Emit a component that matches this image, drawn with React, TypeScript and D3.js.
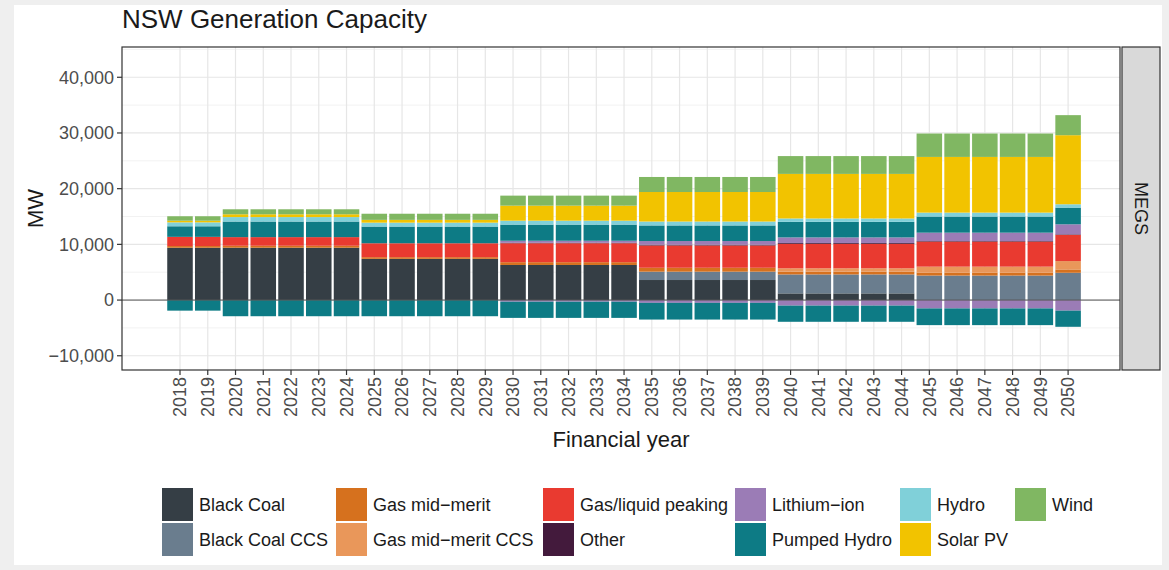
import React from "react";
import * as d3 from "d3";

const years = [2018, 2019, 2020, 2021, 2022, 2023, 2024, 2025, 2026, 2027, 2028, 2029, 2030, 2031, 2032, 2033, 2034, 2035, 2036, 2037, 2038, 2039, 2040, 2041, 2042, 2043, 2044, 2045, 2046, 2047, 2048, 2049, 2050];

const blackCoal = [9400, 9400, 9400, 9400, 9400, 9400, 9400, 7400, 7400, 7400, 7400, 7400, 6300, 6300, 6300, 6300, 6300, 3600, 3600, 3600, 3600, 3600, 1200, 1200, 1200, 1200, 1200, 0, 0, 0, 0, 0, 0];
const blackCoalCCS = [0, 0, 0, 0, 0, 0, 0, 0, 0, 0, 0, 0, 0, 0, 0, 0, 0, 1500, 1500, 1500, 1500, 1500, 3400, 3400, 3400, 3400, 3400, 4400, 4400, 4400, 4400, 4400, 4900];
const gasMidMerit = [300, 300, 350, 350, 350, 350, 350, 300, 300, 300, 300, 300, 500, 500, 500, 500, 500, 700, 700, 700, 700, 700, 500, 500, 500, 500, 500, 500, 500, 500, 500, 500, 600];
const gasMidMeritCCS = [0, 0, 0, 0, 0, 0, 0, 0, 0, 0, 0, 0, 0, 0, 0, 0, 0, 0, 0, 0, 0, 0, 600, 600, 600, 600, 600, 1100, 1100, 1100, 1100, 1100, 1500];
const gasPeaking = [1650, 1650, 1550, 1550, 1550, 1550, 1550, 2500, 2500, 2500, 2500, 2500, 3400, 3400, 3400, 3400, 3400, 4000, 4000, 4000, 4000, 4000, 4400, 4400, 4400, 4400, 4400, 4500, 4500, 4500, 4500, 4500, 4700];
const other = [0, 0, 0, 0, 0, 0, 0, 0, 0, 0, 0, 0, 100, 100, 100, 100, 100, 150, 150, 150, 150, 150, 150, 150, 150, 150, 150, 100, 100, 100, 100, 100, 100];
const lithiumIon = [0, 0, 0, 0, 0, 0, 0, 0, 0, 0, 0, 0, 350, 350, 350, 350, 350, 650, 650, 650, 650, 650, 1000, 1000, 1000, 1000, 1000, 1500, 1500, 1500, 1500, 1500, 1800];
const pumpedHydro = [1900, 1900, 2800, 2800, 2800, 2800, 2800, 3000, 3000, 3000, 3000, 3000, 2900, 2900, 2900, 2900, 2900, 2800, 2800, 2800, 2800, 2800, 2800, 2800, 2800, 2800, 2800, 2900, 2900, 2900, 2900, 2900, 3000];
const hydro = [700, 700, 800, 800, 800, 800, 800, 700, 700, 700, 700, 700, 700, 700, 700, 700, 700, 700, 700, 700, 700, 700, 600, 600, 600, 600, 600, 700, 700, 700, 700, 700, 600];
const solarPV = [300, 300, 500, 500, 500, 500, 500, 500, 500, 500, 500, 500, 2700, 2700, 2700, 2700, 2700, 5300, 5300, 5300, 5300, 5300, 8000, 8000, 8000, 8000, 8000, 10000, 10000, 10000, 10000, 10000, 12400];
const wind = [800, 800, 900, 900, 900, 900, 900, 1100, 1100, 1100, 1100, 1100, 1800, 1800, 1800, 1800, 1800, 2700, 2700, 2700, 2700, 2700, 3200, 3200, 3200, 3200, 3200, 4200, 4200, 4200, 4200, 4200, 3600];
const lithiumIonCharge = [0, 0, 0, 0, 0, 0, 0, 0, 0, 0, 0, 0, -300, -300, -300, -300, -300, -500, -500, -500, -500, -500, -1000, -1000, -1000, -1000, -1000, -1500, -1500, -1500, -1500, -1500, -1900];
const pumpedHydroCharge = [-1900, -1900, -2900, -2900, -2900, -2900, -2900, -2900, -2900, -2900, -2900, -2900, -2900, -2900, -2900, -2900, -2900, -3000, -3000, -3000, -3000, -3000, -2900, -2900, -2900, -2900, -2900, -3000, -3000, -3000, -3000, -3000, -2900];

const seriesNames = ["Black Coal", "Black Coal CCS", "Gas mid\u2212merit", "Gas mid\u2212merit CCS", "Gas/liquid peaking", "Other", "Lithium\u2212ion", "Pumped Hydro", "Hydro", "Solar PV", "Wind"];
const seriesColors = ["#353e45", "#6a7d8e", "#d6711e", "#e9975a", "#e93a30", "#431a3c", "#9b7cb6", "#0d7b85", "#80d0d9", "#f2c300", "#80b762"];
const positiveSeries = [blackCoal, blackCoalCCS, gasMidMerit, gasMidMeritCCS, gasPeaking, other, lithiumIon, pumpedHydro, hydro, solarPV, wind];
const negativeSeries = [
  { idx: 6, values: lithiumIonCharge },
  { idx: 7, values: pumpedHydroCharge },
];

const yTicks = [-10000, 0, 10000, 20000, 30000, 40000];
const yMinor = [-5000, 5000, 15000, 25000, 35000, 45000];
const title = "NSW Generation Capacity";
const facetLabel = "MEGS";

const FONT = "'Liberation Sans', Arial, Helvetica, sans-serif";

export default function App() {
  const W = 1169, H = 570;
  const pl = 122, pr = 1120, pt = 47, pb = 370;
  const x = d3.scaleLinear().domain([2015.91, 2051.87]).range([pl, pr]);
  const y = d3.scaleLinear().domain([-12556, 45435]).range([pb, pt]);
  const step = x(2019) - x(2018);
  const bw = step * 0.92;
  const fmt = d3.format(",");

  const rects: any[] = [];
  years.forEach((yr, i) => {
    let acc = 0;
    positiveSeries.forEach((s, k) => {
      const v = s[i];
      if (v > 0) {
        rects.push(
          <rect key={`p${i}-${k}`} x={x(yr) - bw / 2} width={bw} y={y(acc + v)} height={y(acc) - y(acc + v)} fill={seriesColors[k]} />
        );
      }
      acc += v;
    });
    let neg = 0;
    negativeSeries.forEach((s, k) => {
      const v = s.values[i];
      if (v < 0) {
        rects.push(
          <rect key={`n${i}-${k}`} x={x(yr) - bw / 2} width={bw} y={y(neg)} height={y(neg + v) - y(neg)} fill={seriesColors[s.idx]} />
        );
      }
      neg += v;
    });
  });

  const legendCols = [162, 336, 543, 735, 900, 1015];
  const legendRows = [488, 523];

  return (
    <svg width={W} height={H} style={{ position: "absolute", left: 0, top: 0 }} fontFamily={FONT}>
      <rect x={0} y={0} width={W} height={H} fill="#efefef" />
      <rect x={14} y={5} width={1148} height={560} fill="#ffffff" />
      <text x={pl} y={28} fontSize={26} fill="#1a1a1a">{title}</text>
      {/* panel */}
      <rect x={pl} y={pt} width={pr - pl} height={pb - pt} fill="#ffffff" />
      {yMinor.filter((v) => y(v) > pt && y(v) < pb).map((v) => (
        <line key={`ym${v}`} x1={pl} x2={pr} y1={y(v)} y2={y(v)} stroke="#f2f2f2" strokeWidth={1} />
      ))}
      {yTicks.map((v) => (
        <line key={`yg${v}`} x1={pl} x2={pr} y1={y(v)} y2={y(v)} stroke="#e6e6e6" strokeWidth={1.2} />
      ))}
      {years.map((yr) => (
        <line key={`xg${yr}`} x1={x(yr)} x2={x(yr)} y1={pt} y2={pb} stroke="#e6e6e6" strokeWidth={1.2} />
      ))}
      {rects}
      <line x1={pl} x2={pr} y1={y(0)} y2={y(0)} stroke="#555555" strokeWidth={1} />
      <rect x={pl} y={pt} width={pr - pl} height={pb - pt} fill="none" stroke="#333333" strokeWidth={1.2} />
      {/* strip */}
      <rect x={1122} y={pt} width={38} height={pb - pt} fill="#d9d9d9" stroke="#333333" strokeWidth={1.2} />
      <text transform={`translate(1141,${(pt + pb) / 2}) rotate(90)`} textAnchor="middle" dy="0.35em" fontSize={18} fill="#1a1a1a">{facetLabel}</text>
      {/* y axis */}
      {yTicks.map((v) => (
        <g key={`yt${v}`}>
          <line x1={pl - 5} x2={pl} y1={y(v)} y2={y(v)} stroke="#333333" strokeWidth={1.2} />
          <text x={pl - 8} y={y(v)} dy="0.35em" textAnchor="end" fontSize={18} fill="#4d4d4d">{fmt(v)}</text>
        </g>
      ))}
      <text transform={`translate(35,${(pt + pb) / 2}) rotate(-90)`} textAnchor="middle" dy="0.35em" fontSize={22} fill="#1a1a1a">MW</text>
      {/* x axis */}
      {years.map((yr) => (
        <g key={`xt${yr}`}>
          <line x1={x(yr)} x2={x(yr)} y1={pb} y2={pb + 5} stroke="#333333" strokeWidth={1.2} />
          <text transform={`translate(${x(yr)},${pb + 7}) rotate(-90)`} textAnchor="end" dy="0.35em" fontSize={18} fill="#4d4d4d">{yr}</text>
        </g>
      ))}
      <text x={(pl + pr) / 2} y={447} textAnchor="middle" fontSize={22} fill="#1a1a1a">Financial year</text>
      {/* legend */}
      {seriesNames.map((name, k) => {
        const col = Math.floor(k / 2);
        const row = k % 2;
        const lx = legendCols[col];
        const ly = legendRows[row];
        return (
          <g key={`lg${k}`}>
            <rect x={lx} y={ly} width={31} height={33} fill={seriesColors[k]} />
            <text x={lx + 37} y={ly + 17} dy="0.35em" fontSize={18} fill="#1a1a1a">{name}</text>
          </g>
        );
      })}
    </svg>
  );
}
